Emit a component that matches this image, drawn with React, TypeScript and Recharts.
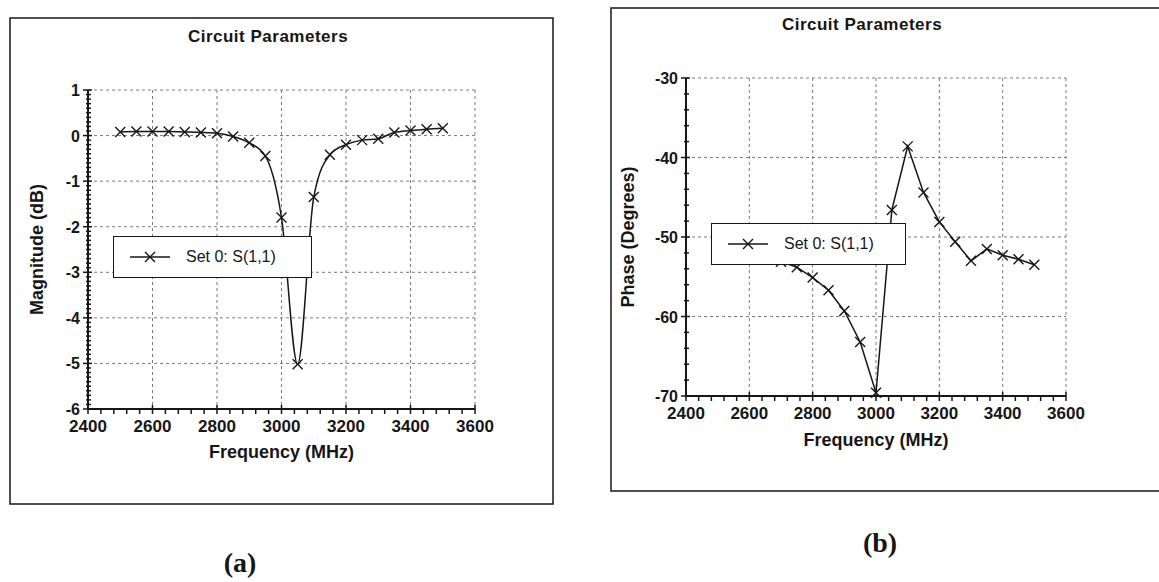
import { LineChart, Line, XAxis, YAxis, CartesianGrid, Legend } from 'recharts'

const FREQ_MHZ = [2500, 2550, 2600, 2650, 2700, 2750, 2800, 2850, 2900, 2950, 3000, 3050, 3100, 3150, 3200, 3250, 3300, 3350, 3400, 3450, 3500]
const MAGNITUDE_DB = [0.08, 0.09, 0.09, 0.09, 0.08, 0.07, 0.05, -0.02, -0.16, -0.45, -1.8, -5.02, -1.35, -0.42, -0.2, -0.1, -0.07, 0.07, 0.11, 0.14, 0.16]
const PHASE_DEG = [-51.6, -51.9, -52.2, -52.6, -53.1, -53.8, -55.1, -56.7, -59.3, -63.2, -69.6, -46.6, -38.6, -44.4, -48.1, -50.6, -53.0, -51.5, -52.3, -52.8, -53.5]

const FREQ_TICKS = [2400, 2600, 2800, 3000, 3200, 3400, 3600]
const MAG_TICKS = [-6, -5, -4, -3, -2, -1, 0, 1]
const PHASE_TICKS = [-70, -60, -50, -40, -30]

const TITLE = 'Circuit Parameters'
const SERIES_NAME = 'Set 0: S(1,1)'
const X_LABEL = 'Frequency (MHz)'

const INK = '#161616'
const FONT = '"Liberation Sans", Arial, sans-serif'

const data = FREQ_MHZ.map((f, i) => ({ f, mag: MAGNITUDE_DB[i], phase: PHASE_DEG[i] }))

// unlabelled ticks in between the labelled ones
function withMinor(major: number[], parts: number) {
  const out: number[] = []
  for (let i = 0; i < major.length - 1; i++) {
    const step = (major[i + 1] - major[i]) / parts
    for (let k = 0; k < parts; k++) out.push(Math.round((major[i] + k * step) * 1000) / 1000)
  }
  out.push(major[major.length - 1])
  return out
}

const isMajor = (majors: number[], v: number) => majors.some((m) => Math.abs(m - v) < 1e-6)

const makeXTick = (majors: number[]) => (props: any) => {
  const { x, y, payload } = props
  const major = isMajor(majors, payload.value)
  return (
    <g>
      <line x1={x} x2={x} y1={major ? y - 4 : y} y2={y + 5} stroke={INK} strokeWidth={1.5} />
      {major && (
        <text x={x} y={y + 23} textAnchor="middle" fontSize={17} fontWeight="bold" fill={INK} fontFamily={FONT}>
          {payload.value}
        </text>
      )}
    </g>
  )
}

const makeYTick = (majors: number[]) => (props: any) => {
  const { x, y, payload } = props
  const major = isMajor(majors, payload.value)
  return (
    <g>
      <line x1={major ? x - 5 : x - 2} x2={major ? x + 4 : x + 3} y1={y} y2={y} stroke={INK} strokeWidth={1.5} />
      {major && (
        <text x={x - 8} y={y + 6} textAnchor="end" fontSize={16} fontWeight="bold" fill={INK} fontFamily={FONT}>
          {payload.value}
        </text>
      )}
    </g>
  )
}

const renderCross = (p: any) => {
  const { cx, cy, index } = p
  if (cx == null || cy == null) return <g key={index} />
  return (
    <path
      key={index}
      d={`M${cx - 5},${cy - 5}L${cx + 5},${cy + 5}M${cx + 5},${cy - 5}L${cx - 5},${cy + 5}`}
      stroke={INK}
      strokeWidth={1.4}
      fill="none"
    />
  )
}

const LegendBox = (props: any) => {
  const item = props.payload?.[0]
  return (
    <div
      style={{
        width: '100%',
        height: '100%',
        boxSizing: 'border-box',
        border: `1.5px solid ${INK}`,
        background: '#fff',
        display: 'flex',
        alignItems: 'center',
        fontFamily: FONT,
        fontSize: 16,
        color: INK,
      }}
    >
      <svg width={70} height={20} style={{ flex: 'none' }}>
        <line x1={16} x2={56} y1={10} y2={10} stroke={INK} strokeWidth={1.5} />
        <path d="M31,5L41,15M41,5L31,15" stroke={INK} strokeWidth={1.4} fill="none" />
      </svg>
      <span style={{ marginLeft: 2 }}>{item?.value}</span>
    </div>
  )
}

interface PanelProps {
  left: number
  top: number
  width: number
  height: number
  margin: { top: number; right: number; bottom: number; left: number }
  dataKey: string
  yTicks: number[]
  yParts: number
  yLabel: string
  yLabelDx: number
  xLabelDy: number
  legendPos: { left: number; top: number; width: number; height: number }
  curve: 'monotone' | 'linear'
}

function Panel(p: PanelProps) {
  return (
    <div style={{ position: 'absolute', left: p.left, top: p.top }}>
      <LineChart width={p.width} height={p.height} data={data} margin={p.margin}>
        <CartesianGrid horizontalValues={p.yTicks} verticalValues={FREQ_TICKS} stroke="#7a7a7a" strokeDasharray="3 3" />
        <XAxis
          dataKey="f"
          type="number"
          domain={[FREQ_TICKS[0], FREQ_TICKS[FREQ_TICKS.length - 1]]}
          ticks={withMinor(FREQ_TICKS, 5)}
          interval={0}
          tickSize={0}
          tickMargin={0}
          tickLine={false}
          tick={makeXTick(FREQ_TICKS)}
          axisLine={{ stroke: INK, strokeWidth: 2 }}
          height={30}
          label={{ value: X_LABEL, position: 'center', dy: p.xLabelDy, fontSize: 18, fontWeight: 'bold', fill: INK, fontFamily: FONT }}
        />
        <YAxis
          type="number"
          domain={[p.yTicks[0], p.yTicks[p.yTicks.length - 1]]}
          ticks={withMinor(p.yTicks, p.yParts)}
          interval={0}
          tickSize={0}
          tickMargin={0}
          tickLine={false}
          tick={makeYTick(p.yTicks)}
          axisLine={{ stroke: INK, strokeWidth: 2 }}
          width={60}
          label={{ value: p.yLabel, angle: -90, position: 'center', dx: p.yLabelDx, fontSize: 18, fontWeight: 'bold', fill: INK, fontFamily: FONT }}
        />
        <Legend layout="vertical" align="center" verticalAlign="middle" wrapperStyle={p.legendPos} content={LegendBox} />
        <Line
          type={p.curve}
          dataKey={p.dataKey}
          name={SERIES_NAME}
          stroke={INK}
          strokeWidth={1.5}
          dot={renderCross}
          activeDot={false}
          isAnimationActive={false}
        />
      </LineChart>
    </div>
  )
}

export default function App() {
  return (
    <div style={{ position: 'absolute', left: 0, top: 0, width: 1159, height: 582, overflow: 'hidden', background: '#fff' }}>
      <svg width={1159} height={582} style={{ position: 'absolute', left: 0, top: 0 }}>
        <rect x={10} y={18} width={543} height={486} fill="none" stroke={INK} strokeWidth={1.5} />
        <rect x={611} y={8} width={600} height={483} fill="none" stroke={INK} strokeWidth={1.5} />
        <text x={268} y={42} textAnchor="middle" fontSize={17} fontWeight="bold" letterSpacing={0.5} fill={INK} fontFamily={FONT}>
          {TITLE}
        </text>
        <text x={862} y={30} textAnchor="middle" fontSize={17} fontWeight="bold" letterSpacing={0.5} fill={INK} fontFamily={FONT}>
          {TITLE}
        </text>
        <text x={240} y={572} textAnchor="middle" fontSize={28} fontWeight="bold" fill={INK} fontFamily='"Liberation Serif", "Times New Roman", serif'>
          (a)
        </text>
        <text x={880} y={552} textAnchor="middle" fontSize={28} fontWeight="bold" fill={INK} fontFamily='"Liberation Serif", "Times New Roman", serif'>
          (b)
        </text>
      </svg>
      <Panel
        left={10}
        top={18}
        width={543}
        height={486}
        margin={{ top: 72, right: 78, bottom: 65, left: 18 }}
        dataKey="mag"
        yTicks={MAG_TICKS}
        yParts={10}
        yLabel="Magnitude (dB)"
        yLabelDx={-21}
        xLabelDy={28}
        legendPos={{ left: 103, top: 218, width: 199, height: 42 }}
        curve="monotone"
      />
      <Panel
        left={611}
        top={8}
        width={548}
        height={483}
        margin={{ top: 70, right: 93, bottom: 65, left: 15 }}
        dataKey="phase"
        yTicks={PHASE_TICKS}
        yParts={5}
        yLabel="Phase (Degrees)"
        yLabelDx={-28}
        xLabelDy={29}
        legendPos={{ left: 100, top: 215, width: 195, height: 42 }}
        curve="linear"
      />
    </div>
  )
}
